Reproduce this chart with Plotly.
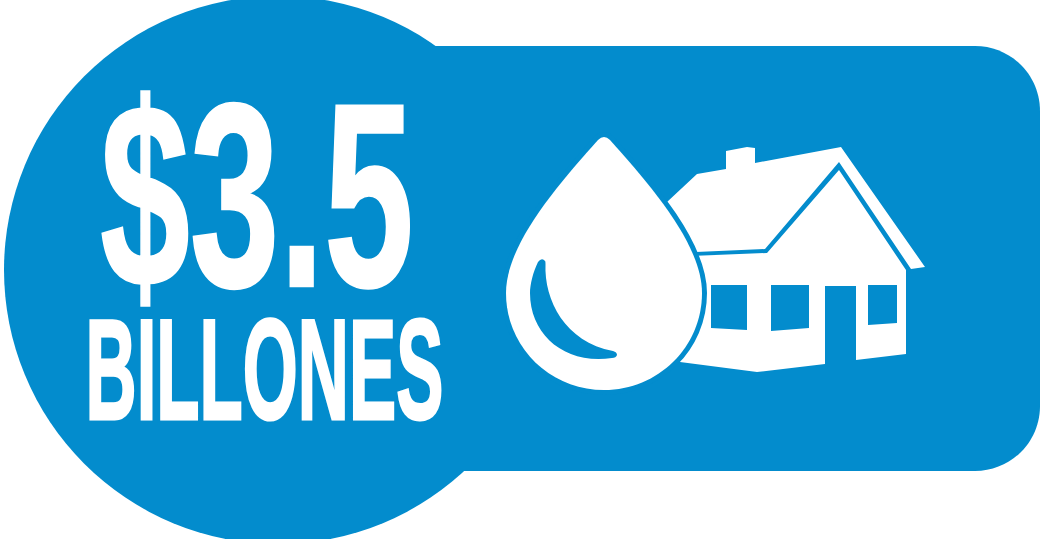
import plotly.graph_objects as go

# Text content
amount_label = "$3.5"
unit_label = "BILLONES"

# Colours
BLUE = "#038CCD"
WHITE = "#FFFFFF"

# Badge geometry
circle_box = [4, -4, 552, 544]
banner_path = "M 278,46 H 975 C 1011,46 1040,75 1040,111 V 406 C 1040,442 1011,471 975,471 H 278 Z"

# Icon outlines
drop_path = ("M 598,140 Q 604,134 610,140 C 652,187 702,245 702,293 C 702,347 658,390 604,390 "
             "C 550,390 506,347 506,293 C 506,245 556,187 598,140 Z")
highlight_path = ("M 538,262 Q 541,258 544,260 Q 546,261 545.5,264 C 544,300 565,342 613,351 "
                  "Q 617,352 617,355 Q 616,358 612,358 C 565,365 530,335 530,293 C 530,285 533,272 538,262 Z")
roof_pts = [(667,202),(697,174),(726,169),(726,151),(747,147),(755,148),(755,163),(841,147),
            (925,267),(911,269),(839,162),(765,249),(696,252),(690,240)]
body_pts = [(690,256),(767,253),(839,170),(906,270),(906,354),(856,360),(856,286),(825,286),
            (825,364),(757,372),(680,362),(690,300)]
window_pts = [
    [(711,285),(747,285),(747,330),(711,328)],
    [(771,285),(809,285),(809,328),(771,331)],
    [(868,285),(897,285),(897,323),(868,325)],
]


def poly(pts):
    return "M " + " L ".join(f"{x},{y}" for x, y in pts) + " Z"


def filled(path, color=WHITE):
    return dict(type="path", path=path, fillcolor=color, line=dict(width=0), layer="above")


shapes = [
    dict(type="circle", x0=circle_box[0], y0=circle_box[1], x1=circle_box[2], y1=circle_box[3],
         fillcolor=BLUE, line=dict(width=0), layer="above"),
    filled(banner_path, BLUE),
    filled(poly(roof_pts)),
    filled(poly(body_pts)),
]
shapes += [filled(poly(w), BLUE) for w in window_pts]
shapes += [
    dict(type="path", path=drop_path, fillcolor=BLUE, line=dict(color=BLUE, width=10), layer="above"),
    filled(drop_path),
    filled(highlight_path, BLUE),
]

fig = go.Figure()
fig.add_annotation(x=256.5, y=195, text=amount_label, showarrow=False, xanchor="center", yanchor="middle",
                   font=dict(family="Liberation Sans", size=262, color=WHITE, weight="bold"),
                   name="amount")
fig.add_annotation(x=264.5, y=369.5, text=unit_label, showarrow=False, xanchor="center", yanchor="middle",
                   font=dict(family="Liberation Sans", size=143, color=WHITE, weight="bold"),
                   name="unit")
fig.update_layout(
    width=1040, height=539, margin=dict(l=0, r=0, t=0, b=0),
    paper_bgcolor=WHITE, plot_bgcolor=WHITE, shapes=shapes, showlegend=False,
    xaxis=dict(range=[0, 1040], visible=False, fixedrange=True),
    yaxis=dict(range=[539, 0], visible=False, fixedrange=True),
)

post = """
document.documentElement.style.margin='0';
document.body.style.margin='0';
document.body.style.overflow='hidden';
var applyText=function(){
  var t=document.querySelectorAll('.annotation-text');
  var k=[0.615,0.495], s=['2.5px','3px'];
  t.forEach(function(e,i){
    e.style.transformBox='fill-box';
    e.style.transformOrigin='center';
    e.style.transform='scaleX('+k[i]+')';
    e.style.stroke='#FFFFFF';
    e.style.strokeWidth=s[i];
  });
};
applyText();
var gd=document.querySelector('.plotly-graph-div');
if(gd&&gd.on){gd.on('plotly_afterplot',applyText);}
setTimeout(applyText,50);
"""
fig.write_html("out.html", post_script=post, config=dict(displayModeBar=False))
